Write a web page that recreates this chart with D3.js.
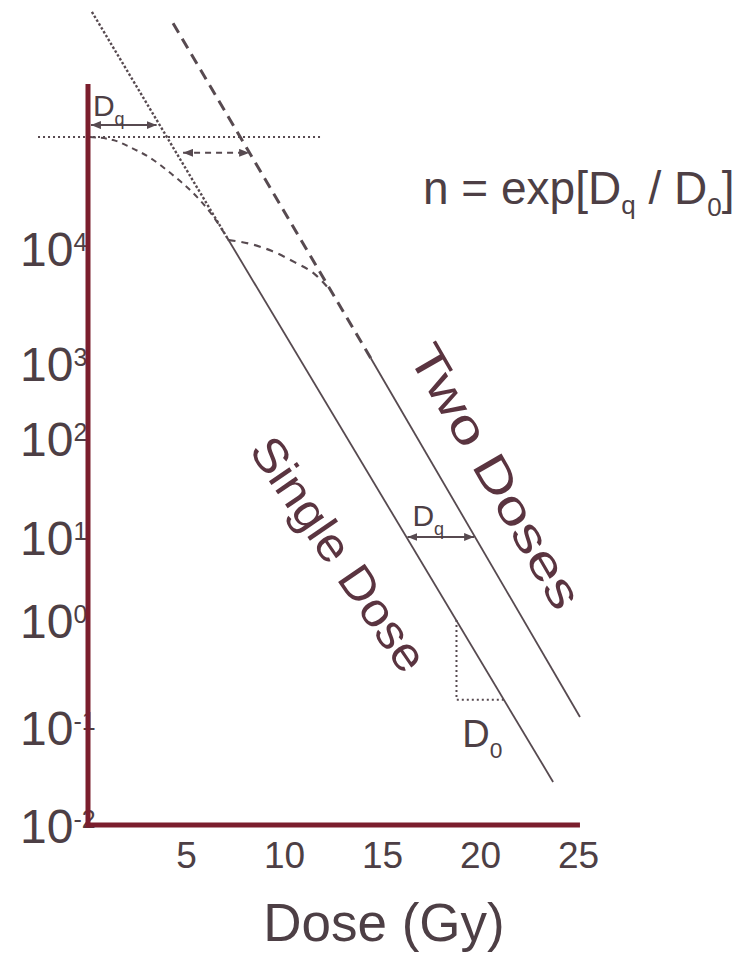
<!DOCTYPE html>
<html>
<head>
<meta charset="utf-8">
<script src="https://cdn.jsdelivr.net/npm/d3@7"></script>
<style>
  body { margin: 0; background: #fff; }
  svg { display: block; }
</style>
</head>
<body>
<svg id="chart" width="754" height="954"></svg>
<script>
// Axis ticks
const doseTicks = [5, 10, 15, 20, 25];
const survivalTicks = [1e-2, 1e-1, 1, 10, 100, 1e3, 1e4];

// Survival curves: [dose (Gy), surviving cells]
const singleExtrapolated = [[0.2, 1.34e6], [7.17, 1.18e4]];
const singleShoulder = [[0.1, 1e5], [1.28, 9.4e4], [2.14, 8.1e4], [3.17, 6.5e4], [4.29, 4.6e4],
                        [5.31, 3.2e4], [6.23, 2.1e4], [7.17, 1.18e4]];
const singleDose = [[7.17, 1.18e4], [23.73, 0.0275]];

const twoExtrapolated = [[4.34, 1.06e6], [14.43, 1.1e3]];
const twoShoulder = [[7.17, 1.18e4], [8.27, 1.09e4], [9.39, 9.4e3], [10.56, 7.5e3],
                     [11.58, 5.9e3], [12.25, 4.5e3]];
const twoDoses = [[14.43, 1.1e3], [25.1, 0.124]];

// Reference marks
const initialLevel = [[-2.55, 1e5], [11.85, 1e5]];
const dqFirst = [[0.15, 1.28e5], [3.5, 1.28e5]];
const dqSecond = [[4.85, 7.2e4], [8.22, 7.2e4]];
const dqParallel = [[16.3, 10], [19.7, 10]];
const d0Drop = [[18.8, 1], [18.8, 0.18], [21.25, 0.18]];

// Axis extents
const doseAxisEnd = 25.1;
const survivalAxisTop = 3e5;

const svg = d3.select("#chart");
const font = "'Liberation Sans', Arial, sans-serif";
const axisColor = "#7b1e2d";
const inkColor = "#4d3f45";
const nameColor = "#5a3440";
const lineColor = "#574a50";

const x = d3.scaleLinear().domain([0, 25]).range([88, 578]);
// Hand-drawn log axis: decades are not evenly spaced
const y = d3.scaleLog()
  .domain([1e-2, 1e-1, 1, 10, 100, 1e3, 1e4, 1e5])
  .range([825, 727, 620, 537, 438, 363, 248, 137]);

const line = d3.line().x(d => x(d[0])).y(d => y(d[1]));
const smooth = d3.line().x(d => x(d[0])).y(d => y(d[1])).curve(d3.curveMonotoneX);

// Arrowhead marker
const defs = svg.append("defs");
defs.append("marker")
  .attr("id", "head")
  .attr("markerUnits", "userSpaceOnUse")
  .attr("viewBox", "0 0 10 8")
  .attr("markerWidth", 10).attr("markerHeight", 8)
  .attr("refX", 10).attr("refY", 4)
  .attr("orient", "auto-start-reverse")
  .append("path").attr("d", "M0,0 L10,4 L0,8 Z").attr("fill", lineColor);

// Y tick labels: 10 with superscript exponent, tucked under the axis line
const yAxis = d3.axisLeft(y).tickValues(survivalTicks).tickSize(0).tickFormat(() => "");
const gy = svg.append("g").attr("transform", `translate(${x(0)},0)`).call(yAxis);
gy.select(".domain").remove();
gy.selectAll(".tick").each(function(d) {
  const e = Math.round(Math.log10(d));
  const t = d3.select(this).append("text")
    .attr("x", -68).attr("y", 17)
    .attr("text-anchor", "start")
    .attr("fill", inkColor)
    .style("font-family", font).style("font-size", "48px");
  t.append("tspan").text("10");
  t.append("tspan").attr("dy", -15).style("font-size", "25px")
    .text(e < 0 ? "-" + Math.abs(e) : e);
});

// X tick labels
const xAxis = d3.axisBottom(x).tickValues(doseTicks).tickSize(0).tickPadding(17);
const gx = svg.append("g").attr("transform", `translate(0,${y(1e-2)})`).call(xAxis);
gx.select(".domain").remove();
gx.selectAll("text").attr("fill", inkColor).style("font-family", font).style("font-size", "37px");

// Axis title
svg.append("text")
  .attr("x", 384).attr("y", 941)
  .attr("text-anchor", "middle")
  .attr("fill", inkColor)
  .style("font-family", font).style("font-size", "53px")
  .text("Dose (Gy)");

// Guides
svg.append("path").datum(initialLevel).attr("d", line)
  .attr("fill", "none").attr("stroke", lineColor).attr("stroke-width", 2).attr("stroke-dasharray", "2,3");
svg.append("path").datum(d0Drop).attr("d", line)
  .attr("fill", "none").attr("stroke", lineColor).attr("stroke-width", 2).attr("stroke-dasharray", "2,3");

// Single dose
svg.append("path").datum(singleExtrapolated).attr("d", line)
  .attr("fill", "none").attr("stroke", lineColor).attr("stroke-width", 2.4).attr("stroke-dasharray", "2.5,2");
svg.append("path").datum(singleShoulder).attr("d", smooth)
  .attr("fill", "none").attr("stroke", lineColor).attr("stroke-width", 2).attr("stroke-dasharray", "6,5");
svg.append("path").datum(singleDose).attr("d", line)
  .attr("fill", "none").attr("stroke", lineColor).attr("stroke-width", 1.8);

// Two doses
svg.append("path").datum(twoExtrapolated).attr("d", line)
  .attr("fill", "none").attr("stroke", lineColor).attr("stroke-width", 3).attr("stroke-dasharray", "11,7");
svg.append("path").datum(twoShoulder).attr("d", smooth)
  .attr("fill", "none").attr("stroke", lineColor).attr("stroke-width", 2.2).attr("stroke-dasharray", "7,6");
svg.append("path").datum(twoDoses).attr("d", line)
  .attr("fill", "none").attr("stroke", lineColor).attr("stroke-width", 1.8);

// Dq arrows
svg.append("path").datum(dqFirst).attr("d", line)
  .attr("fill", "none").attr("stroke", lineColor).attr("stroke-width", 2)
  .attr("marker-start", "url(#head)").attr("marker-end", "url(#head)");
svg.append("path").datum(dqSecond).attr("d", line)
  .attr("fill", "none").attr("stroke", lineColor).attr("stroke-width", 2).attr("stroke-dasharray", "6,5")
  .attr("marker-start", "url(#head)").attr("marker-end", "url(#head)");
svg.append("path").datum(dqParallel).attr("d", line)
  .attr("fill", "none").attr("stroke", lineColor).attr("stroke-width", 2)
  .attr("marker-start", "url(#head)").attr("marker-end", "url(#head)");

// Subscripted labels
function subLabel(px, py, main, sub, size) {
  const t = svg.append("text").attr("x", px).attr("y", py)
    .attr("fill", inkColor).style("font-family", font).style("font-size", size + "px");
  t.append("tspan").text(main);
  t.append("tspan").attr("dy", size * 0.3).style("font-size", (size * 0.6) + "px").text(sub);
  return t;
}
subLabel(x(0.25), y(1.28e5) - 9, "D", "q", 30);
subLabel(x(16.55), y(10) - 11, "D", "q", 30);
subLabel(x(19.1), y(0.18) + 47, "D", "0", 38);

// Formula
const f = svg.append("text").attr("x", 423).attr("y", 204)
  .attr("fill", inkColor).style("font-family", font).style("font-size", "46px");
f.append("tspan").text("n = exp[D");
f.append("tspan").attr("dy", 10).style("font-size", "26px").text("q");
f.append("tspan").attr("dy", -10).text(" / D");
f.append("tspan").attr("dy", 12).style("font-size", "26px").text("0");
f.append("tspan").attr("dy", -12).text("]");

// Curve names along the lines
svg.append("text")
  .attr("transform", "translate(339,554) rotate(55.5) scale(1.08,1)")
  .attr("text-anchor", "middle").attr("dy", "0.35em")
  .attr("fill", nameColor).style("font-family", font).style("font-size", "47px")
  .text("Single Dose");
svg.append("text")
  .attr("transform", "translate(496,476) rotate(60) scale(1.28,1)")
  .attr("text-anchor", "middle").attr("dy", "0.35em")
  .attr("fill", nameColor).style("font-family", font).style("font-size", "47px")
  .text("Two Doses");

// Axis lines drawn last, over the tick-label exponents
svg.append("line")
  .attr("x1", x(0)).attr("x2", x(0))
  .attr("y1", y(survivalAxisTop)).attr("y2", y(1e-2) + 2.5)
  .attr("stroke", axisColor).attr("stroke-width", 5);
svg.append("line")
  .attr("x1", x(0) - 2.5).attr("x2", x(doseAxisEnd))
  .attr("y1", y(1e-2)).attr("y2", y(1e-2))
  .attr("stroke", axisColor).attr("stroke-width", 5);
</script>
</body>
</html>
